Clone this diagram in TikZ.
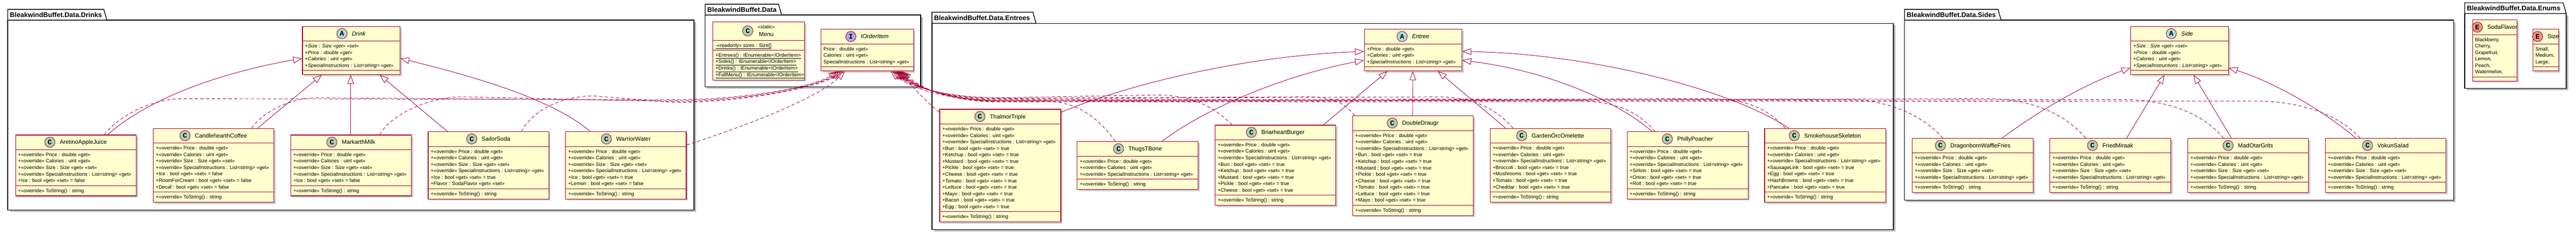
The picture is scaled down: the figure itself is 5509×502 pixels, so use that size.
\documentclass[tikz,border=0pt]{standalone}
\usepackage{fontspec}
\setmainfont{Liberation Sans}
\newfontfamily\spotfamily{Liberation Mono}
\usetikzlibrary{calc,arrows.meta,shadows}
\definecolor{umlred}{RGB}{168,0,54}
\definecolor{umlfill}{RGB}{254,254,206}
\definecolor{spotCc}{RGB}{173,209,178}
\definecolor{spotAc}{RGB}{169,220,223}
\definecolor{spotIc}{RGB}{180,167,229}
\definecolor{spotEc}{RGB}{235,147,127}
\newcommand\attrfont{\fontsize{10.6}{13.85}\selectfont}
\newcommand\namefont{\fontsize{12.5}{15}\selectfont}
\newcommand\pkgfont{\fontsize{14.4}{17}\selectfont\bfseries}
\newcommand\umlP{+«override» Price : double «get»}
\newcommand\umlC{+«override» Calories : uint «get»}
\newcommand\umlS{+«override» Size : Size «get» «set»}
\newcommand\umlI{+«override» SpecialInstructions : List<string> «get»}
\newcommand\umlT{+«override» ToString() : string}
\newcommand\umlBT[1]{+#1 : bool «get» «set» = true}
\newcommand\umlBF[1]{+#1 : bool «get» «set» = false}
\tikzset{
 clsbox/.style={draw=umlred, fill=umlfill, line width=1.3pt, inner sep=0pt,
   drop shadow={shadow xshift=3.5pt, shadow yshift=-3.5pt, opacity=0.45, fill=black!45}},
 clsline/.style={draw=umlred, line width=1.1pt},
 txt/.style={inner sep=0pt, font=\attrfont, anchor=base west},
 itxt/.style={txt, font=\attrfont\itshape},
 cname/.style={inner sep=0pt, font=\namefont, anchor=base},
 iname/.style={cname, font=\namefont\itshape},
 spot/.style={circle, draw=umlred, line width=1pt, minimum size=22pt, inner sep=0pt,
   font=\spotfamily\bfseries\fontsize{15}{15}\selectfont},
 inh/.style={draw=umlred, line width=1pt, -{Triangle[open, length=19pt, width=14pt]}},
 real/.style={inh, dash pattern=on 7pt off 5pt},
 pkgline/.style={draw=black, line width=1.5pt},
 pkgtitle/.style={inner sep=0pt, font=\pkgfont, anchor=base west},
}
% id, x, y, width, nAttr, nMeth, name style, title, spot letter
\newcommand\umlcls[9]{%
 \pgfmathsetmacro\hA{(#5==0)?8:(13.85*#5+7.5)}%
 \pgfmathsetmacro\hM{(#6==0)?8:(13.85*#6+7.5)}%
 \pgfmathsetmacro\hT{32+\hA+\hM}%
 \node[clsbox, minimum width=#4pt, minimum height=\hT pt, anchor=north west] (#1) at (#2,#3) {};
 \draw[clsline] ($(#1.north west)+(0,32)$) -- ($(#1.north east)+(0,32)$);
 \draw[clsline] ($(#1.north west)+(0,32+\hA)$) -- ($(#1.north east)+(0,32+\hA)$);
 \node[#7] (#1-n) at ($(#1.north)+(16,20.5)$) {#8};
 \node[spot, fill=spot#9c] (#1-s) at ($(#1-n.base west)+(-21,-4.5)$) {#9};
}
% id, tag, offset, style, list
\newcommand\umltext[5]{%
 \foreach \tx [count=\nn from 0] in {#5} {%
  \node[#4] (#1-#2\nn) at ($(#1.north west)+(6,#3+14.3+13.85*\nn)$) {\tx};}%
}
% id, x0, x1, tabtop, bodytop, bottom, tabright, title
\newcommand\umlpkg[8]{%
 \fill[black!28] (#2+4,#5+4) rectangle (#3+4,#6+4);
 \draw[pkgline, fill=white] (#2,#5) rectangle (#3,#6);
 \draw[pkgline, fill=white] (#2,#5) -- (#2,#4) -- (#7,#4) -- (#7+6.5,#5) -- cycle;
 \node[pkgtitle] (#1) at (#2+4.5,#4+17) {#8};
}
\begin{document}
\begin{tikzpicture}[x=1pt,y=-1pt]
\useasboundingbox (0,0) rectangle (5509,502);
\fill[white] (0,0) rectangle (5509,502);

% ---------------- packages
\umlpkg{pdrinks}{16.5}{1484}{20}{43}{449}{222}{BleakwindBuffet.Data.Drinks}
\umlpkg{pdata}{1508}{1969}{9}{32}{186}{1665}{BleakwindBuffet.Data}
\umlpkg{pentrees}{1993}{4049}{26}{50}{491}{2209}{BleakwindBuffet.Data.Entrees}
\umlpkg{psides}{4073}{5247}{20}{43}{428}{4273}{BleakwindBuffet.Data.Sides}
\umlpkg{penums}{5271}{5488}{6}{29}{189}{5481.5}{BleakwindBuffet.Data.Enums}

% ---------------- Drinks
\umlcls{drink}{646}{56}{209}{4}{0}{iname}{Drink}{A}
\umltext{drink}{a}{32}{itxt}{{+Size : Size «get» «set»},{+Price : double «get»},{+Calories : uint «get»},{+SpecialInstructions : List<string> «get»}}

\umlcls{aretino}{32.6}{288}{258}{5}{1}{cname}{AretinoAppleJuice}{C}
\umltext{aretino}{a}{32}{txt}{{\umlP},{\umlC},{\umlS},{\umlI},{\umlBF{Ice}}}
\umltext{aretino}{m}{32+\hA}{txt}{{\umlT}}

\umlcls{candle}{327}{274}{258}{7}{1}{cname}{CandlehearthCoffee}{C}
\umltext{candle}{a}{32}{txt}{{\umlP},{\umlC},{\umlS},{\umlI},{\umlBF{Ice}},{\umlBF{RoomForCream}},{\umlBF{Decaf}}}
\umltext{candle}{m}{32+\hA}{txt}{{\umlT}}

\umlcls{markarth}{621}{288}{258}{5}{1}{cname}{MarkarthMilk}{C}
\umltext{markarth}{a}{32}{txt}{{\umlP},{\umlC},{\umlS},{\umlI},{\umlBF{Ice}}}
\umltext{markarth}{m}{32+\hA}{txt}{{\umlT}}

\umlcls{sailor}{915}{281}{258}{6}{1}{cname}{SailorSoda}{C}
\umltext{sailor}{a}{32}{txt}{{\umlP},{\umlC},{\umlS},{\umlI},{\umlBT{Ice}},{+Flavor : SodaFlavor «get» «set»}}
\umltext{sailor}{m}{32+\hA}{txt}{{\umlT}}

\umlcls{warrior}{1209}{281}{258}{6}{1}{cname}{WarriorWater}{C}
\umltext{warrior}{a}{32}{txt}{{\umlP},{\umlC},{\umlS},{\umlI},{\umlBT{Ice}},{\umlBF{Lemon}}}
\umltext{warrior}{m}{32+\hA}{txt}{{\umlT}}

% ---------------- Data
\node[clsbox, minimum width=196pt, minimum height=124.25pt, anchor=north west] (menu) at (1524,46) {};
\draw[clsline] ($(menu.north west)+(0,40)$) -- ($(menu.north east)+(0,40)$);
\draw[clsline] ($(menu.north west)+(0,61.35)$) -- ($(menu.north east)+(0,61.35)$);
\node[inner sep=0pt, font=\attrfont\itshape, anchor=base] (menu-st) at ($(menu.north)+(16,15.7)$) {«static»};
\node[cname] (menu-n) at ($(menu.north)+(16,32.2)$) {Menu};
\node[spot, fill=spotCc] (menu-s) at ($(menu-st.base west)+(-21,4.3)$) {C};
\umltext{menu}{a}{40}{txt}{{\underline{-«readonly» sizes : Size[]}}}
\umltext{menu}{m}{61.35}{txt}{{\underline{+Entrees() : IEnumerable<IOrderItem>}},{\underline{+Sides() : IEnumerable<IOrderItem>}},{\underline{+Drinks() : IEnumerable<IOrderItem>}},{\underline{+FullMenu() : IEnumerable<IOrderItem>}}}

\umlcls{iorder}{1755}{62}{198}{3}{0}{iname}{IOrderItem}{I}
\umltext{iorder}{a}{32}{txt}{{Price : double «get»},{Calories : uint «get»},{SpecialInstructions : List<string> «get»}}

% ---------------- Entrees
\umlcls{entree}{2917}{62}{209}{3}{0}{iname}{Entree}{A}
\umltext{entree}{a}{32}{itxt}{{+Price : double «get»},{+Calories : uint «get»},{+SpecialInstructions : List<string> «get»}}

\umlcls{thalmor}{2009}{233}{259}{13}{1}{cname}{ThalmorTriple}{C}
\umltext{thalmor}{a}{32}{txt}{{\umlP},{\umlC},{\umlI},{\umlBT{Bun}},{\umlBT{Ketchup}},{\umlBT{Mustard}},{\umlBT{Pickle}},{\umlBT{Cheese}},{\umlBT{Tomato}},{\umlBT{Lettuce}},{\umlBT{Mayo}},{\umlBT{Bacon}},{\umlBT{Egg}}}
\umltext{thalmor}{m}{32+\hA}{txt}{{\umlT}}

\umlcls{thugs}{2303}{302}{259}{3}{1}{cname}{ThugsTBone}{C}
\umltext{thugs}{a}{32}{txt}{{\umlP},{\umlC},{\umlI}}
\umltext{thugs}{m}{32+\hA}{txt}{{\umlT}}

\umlcls{briar}{2598}{267}{258}{8}{1}{cname}{BriarheartBurger}{C}
\umltext{briar}{a}{32}{txt}{{\umlP},{\umlC},{\umlI},{\umlBT{Bun}},{\umlBT{Ketchup}},{\umlBT{Mustard}},{\umlBT{Pickle}},{\umlBT{Cheese}}}
\umltext{briar}{m}{32+\hA}{txt}{{\umlT}}

\umlcls{double}{2892}{247}{258}{11}{1}{cname}{DoubleDraugr}{C}
\umltext{double}{a}{32}{txt}{{\umlP},{\umlC},{\umlI},{\umlBT{Bun}},{\umlBT{Ketchup}},{\umlBT{Mustard}},{\umlBT{Pickle}},{\umlBT{Cheese}},{\umlBT{Tomato}},{\umlBT{Lettuce}},{\umlBT{Mayo}}}
\umltext{double}{m}{32+\hA}{txt}{{\umlT}}

\umlcls{garden}{3186}{274}{258}{7}{1}{cname}{GardenOrcOmelette}{C}
\umltext{garden}{a}{32}{txt}{{\umlP},{\umlC},{\umlI},{\umlBT{Broccoli}},{\umlBT{Mushrooms}},{\umlBT{Tomato}},{\umlBT{Cheddar}}}
\umltext{garden}{m}{32+\hA}{txt}{{\umlT}}

\umlcls{philly}{3479}{281}{259}{6}{1}{cname}{PhillyPoacher}{C}
\umltext{philly}{a}{32}{txt}{{\umlP},{\umlC},{\umlI},{\umlBT{Sirloin}},{\umlBT{Onion}},{\umlBT{Roll}}}
\umltext{philly}{m}{32+\hA}{txt}{{\umlT}}

\umlcls{smoke}{3773}{274}{259}{7}{1}{cname}{SmokehouseSkeleton}{C}
\umltext{smoke}{a}{32}{txt}{{\umlP},{\umlC},{\umlI},{\umlBT{SausageLink}},{\umlBT{Egg}},{\umlBT{HashBrowns}},{\umlBT{Pancake}}}
\umltext{smoke}{m}{32+\hA}{txt}{{\umlT}}

% ---------------- Sides
\umlcls{side}{4556}{56}{209}{4}{0}{iname}{Side}{A}
\umltext{side}{a}{32}{itxt}{{+Size : Size «get» «set»},{+Price : double «get»},{+Calories : uint «get»},{+SpecialInstructions : List<string> «get»}}

\umlcls{dragon}{4089}{295}{259}{4}{1}{cname}{DragonbornWaffleFries}{C}
\umltext{dragon}{a}{32}{txt}{{\umlP},{\umlC},{\umlS},{\umlI}}
\umltext{dragon}{m}{32+\hA}{txt}{{\umlT}}

\umlcls{fried}{4383}{295}{259}{4}{1}{cname}{FriedMiraak}{C}
\umltext{fried}{a}{32}{txt}{{\umlP},{\umlC},{\umlS},{\umlI}}
\umltext{fried}{m}{32+\hA}{txt}{{\umlT}}

\umlcls{madotar}{4678}{295}{258}{4}{1}{cname}{MadOtarGrits}{C}
\umltext{madotar}{a}{32}{txt}{{\umlP},{\umlC},{\umlS},{\umlI}}
\umltext{madotar}{m}{32+\hA}{txt}{{\umlT}}

\umlcls{vokun}{4972}{295}{258}{4}{1}{cname}{VokunSalad}{C}
\umltext{vokun}{a}{32}{txt}{{\umlP},{\umlC},{\umlS},{\umlI}}
\umltext{vokun}{m}{32+\hA}{txt}{{\umlT}}

% ---------------- Enums
\umlcls{soda}{5287}{42}{95}{6}{0}{cname}{SodaFlavor}{E}
\umltext{soda}{a}{32}{txt}{{Blackberry,},{Cherry,},{Grapefruit,},{Lemon,},{Peach,},{Watermelon,}}

\umlcls{sizeenum}{5416}{62}{55}{3}{0}{cname}{Size}{E}
\umltext{sizeenum}{a}{32}{txt}{{Small,},{Medium,},{Large,}}

% ---------------- inheritance: Drinks
\draw[inh] ($(aretino.north west)+(197.4,0)$) .. controls (330,200) and (500,150) .. ($(drink.north west)+(0,69)$);
\draw[inh] ($(candle.north west)+(224,0)$) -- ($(drink.south west)+(42,0)$);
\draw[inh] ($(markarth.north west)+(129,0)$) -- ($(drink.south west)+(104,0)$);
\draw[inh] ($(sailor.north west)+(42,0)$) -- ($(drink.south west)+(166,0)$);
\draw[inh] ($(warrior.north west)+(53,0)$) .. controls (1180,210) and (1000,160) .. ($(drink.north east)+(0,69)$);

% ---------------- inheritance: Entrees
\draw[inh] ($(thalmor.north east)+(0,7)$) .. controls (2400,185) and (2650,120) .. ($(entree.north west)+(0,48)$);
\draw[inh] ($(thugs.north west)+(182,0)$) .. controls (2580,230) and (2750,160) .. ($(entree.north west)+(0,67)$);
\draw[inh] ($(briar.north west)+(232,0)$) -- ($(entree.south west)+(50,0)$);
\draw[inh] ($(double.north west)+(129,0)$) -- ($(entree.south west)+(104.5,0)$);
\draw[inh] ($(garden.north west)+(34,0)$) -- ($(entree.south west)+(158,0)$);
\draw[inh] ($(philly.north west)+(54,0)$) .. controls (3450,210) and (3300,150) .. ($(entree.north east)+(0,67)$);
\draw[inh] ($(smoke.north west)+(52,0)$) .. controls (3700,190) and (3400,115) .. ($(entree.north east)+(0,48)$);

% ---------------- inheritance: Sides
\draw[inh] ($(dragon.north west)+(193,0)$) .. controls (4370,230) and (4460,180) .. ($(side.north west)+(0,89)$);
\draw[inh] ($(fried.north west)+(165,0)$) -- ($(side.south west)+(73,0)$);
\draw[inh] ($(madotar.north west)+(94,0)$) -- ($(side.south west)+(135,0)$);
\draw[inh] ($(vokun.north west)+(66,0)$) .. controls (4960,230) and (4860,175) .. ($(side.north east)+(0,89)$);

% ---------------- realization: Drinks -> IOrderItem
\draw[real] ($(aretino.north west)+(190.4,0)$) .. controls +(25,-35) and +(-70,0) .. (390,211) -- (1440,213) .. controls +(170,0) and +(-45,30) .. ($(iorder.south west)+(36,0)$);
\draw[real] ($(candle.north west)+(211,0)$) .. controls +(25,-35) and +(-60,0) .. (680,209) -- (1440,215) .. controls +(170,0) and +(-45,30) .. ($(iorder.south west)+(40,0)$);
\draw[real] ($(markarth.north west)+(191,0)$) .. controls +(25,-45) and +(-70,0) .. (990,207) -- (1440,217) .. controls +(170,0) and +(-45,30) .. ($(iorder.south west)+(44,0)$);
\draw[real] ($(sailor.north west)+(200,0)$) .. controls +(25,-45) and +(-70,0) .. (1270,205) -- (1440,219) .. controls +(170,0) and +(-45,30) .. ($(iorder.south west)+(48,0)$);
\draw[real] ($(warrior.north east)+(0,29)$) .. controls +(140,-45) and +(-55,55) .. ($(iorder.south west)+(52,0)$);

% ---------------- realization: Entrees / Sides -> IOrderItem
\draw[real] ($(thalmor.north west)+(0,7)$) .. controls +(-25,-20) and +(25,35) .. ($(iorder.south west)+(172,0)$);
\draw[real] ($(thugs.north west)+(82,0)$) .. controls +(-40,-55) and +(70,0) .. (2230,216) -- (2140,216) .. controls +(-110,0) and +(40,35) .. ($(iorder.south west)+(150,0)$);
\draw[real] ($(briar.north west)+(37,0)$) .. controls +(-45,-45) and +(70,0) .. (2470,203) -- (2140,209) .. controls +(-110,0) and +(40,35) .. ($(iorder.south west)+(154,0)$);
\draw[real] ($(double.north west)+(5,0)$) .. controls +(-25,-30) and +(60,0) .. (2790,207) -- (2140,210) .. controls +(-110,0) and +(40,35) .. ($(iorder.south west)+(157,0)$);
\draw[real] ($(garden.north west)+(50,0)$) .. controls +(-45,-50) and +(70,0) .. (3070,207) -- (2140,211) .. controls +(-110,0) and +(40,35) .. ($(iorder.south west)+(160,0)$);
\draw[real] ($(philly.north west)+(60,0)$) .. controls +(-45,-55) and +(70,0) .. (3360,215) -- (2140,213) .. controls +(-110,0) and +(40,35) .. ($(iorder.south west)+(162,0)$);
\draw[real] ($(smoke.north west)+(45,0)$) .. controls +(-45,-50) and +(70,0) .. (3650,211) -- (2140,214) .. controls +(-110,0) and +(40,35) .. ($(iorder.south west)+(164,0)$);
\draw[real] ($(dragon.north west)+(66,0)$) .. controls +(-55,-60) and +(70,0) .. (3950,213) -- (2140,215) .. controls +(-110,0) and +(40,35) .. ($(iorder.south west)+(166,0)$);
\draw[real] ($(fried.north west)+(77,0)$) .. controls +(-55,-65) and +(70,0) .. (4250,211) -- (2140,216) .. controls +(-110,0) and +(40,35) .. ($(iorder.south west)+(168,0)$);
\draw[real] ($(madotar.north west)+(77,0)$) .. controls +(-55,-65) and +(70,0) .. (4540,213) -- (2140,217) .. controls +(-110,0) and +(40,35) .. ($(iorder.south west)+(170,0)$);
\draw[real] ($(vokun.north west)+(75,0)$) .. controls +(-60,-65) and +(70,0) .. (4820,216) -- (2140,218) .. controls +(-110,0) and +(40,35) .. ($(iorder.south west)+(174,0)$);
\end{tikzpicture}
\end{document}
